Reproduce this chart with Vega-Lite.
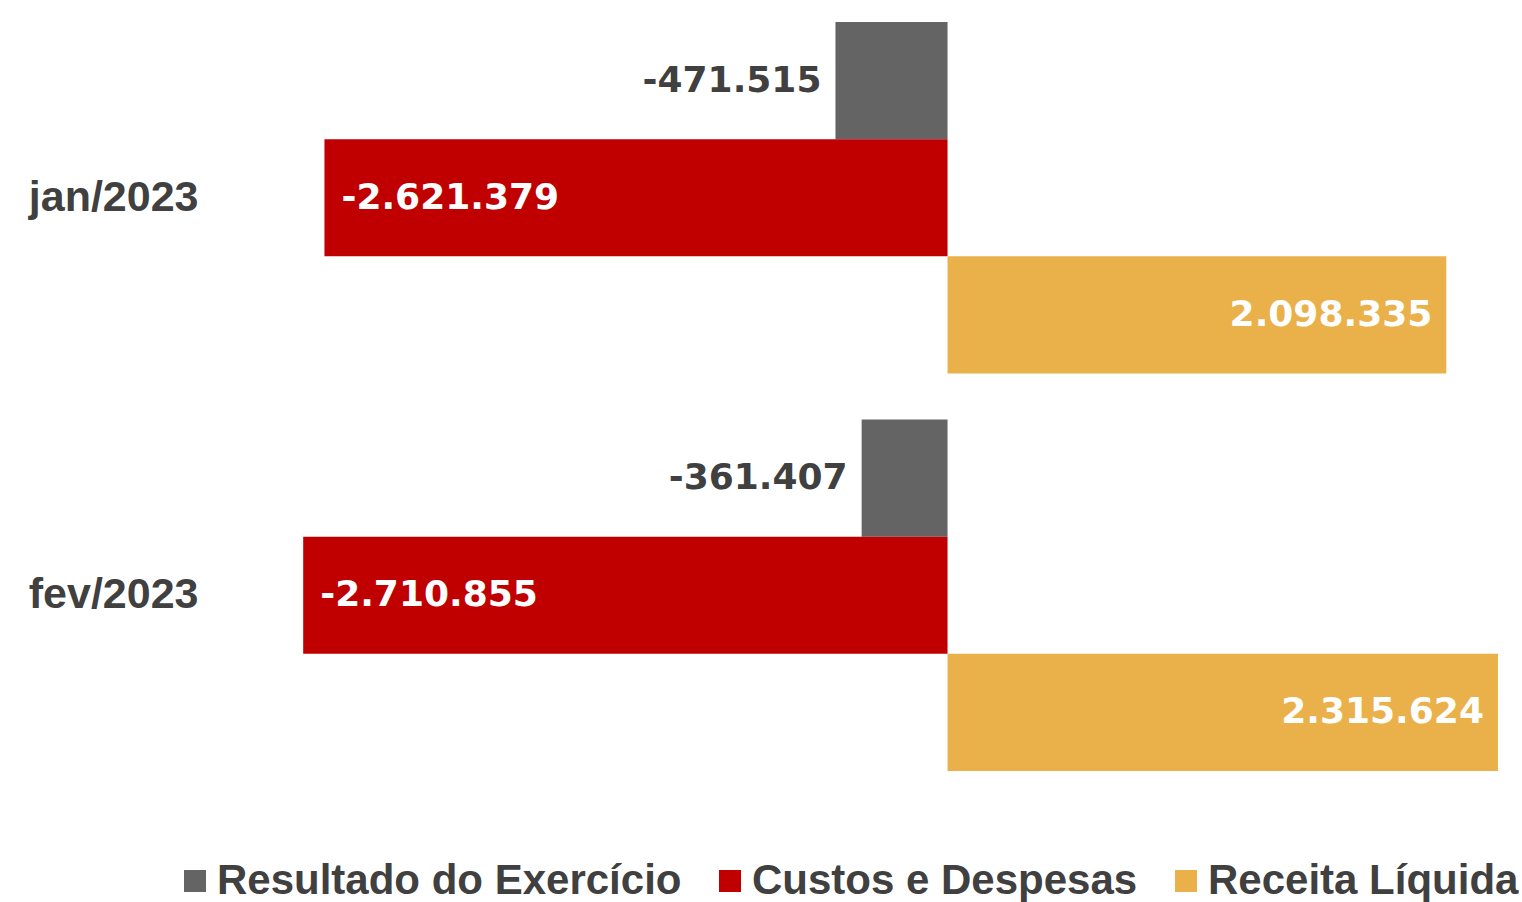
{
  "$schema": "https://vega.github.io/schema/vega-lite/v6.json",
  "autosize": {"type": "none"},
  "width": 1236,
  "height": 749,
  "padding": {"left": 282, "top": 22, "right": 4, "bottom": 131},
  "config": {
    "view": {"stroke": null},
    "locale": {"number": {"decimal": ",", "thousands": ".", "grouping": [3], "currency": ["R$ ", ""], "minus": "-"}}
  },
  "data": {
    "values": [
      {"mes": "jan/2023", "serie": "Resultado do Exercício", "valor": -471515},
      {"mes": "jan/2023", "serie": "Custos e Despesas", "valor": -2621379},
      {"mes": "jan/2023", "serie": "Receita Líquida", "valor": 2098335},
      {"mes": "fev/2023", "serie": "Resultado do Exercício", "valor": -361407},
      {"mes": "fev/2023", "serie": "Custos e Despesas", "valor": -2710855},
      {"mes": "fev/2023", "serie": "Receita Líquida", "valor": 2315624}
    ]
  },
  "encoding": {
    "y": {
      "field": "mes", "type": "nominal", "sort": ["jan/2023", "fev/2023"],
      "scale": {"paddingInner": 0.1156, "paddingOuter": 0},
      "axis": {"title": null, "domain": false, "ticks": false, "grid": false, "labelPadding": 84,
               "labelFont": "Liberation Sans", "labelFontWeight": "bold", "labelFontSize": 43, "labelColor": "#404040"}
    },
    "yOffset": {
      "field": "serie", "type": "nominal",
      "sort": ["Resultado do Exercício", "Custos e Despesas", "Receita Líquida"],
      "scale": {"paddingInner": 0, "paddingOuter": 0}
    },
    "x": {
      "field": "valor", "type": "quantitative",
      "scale": {"domain": [-2800000, 2400000], "nice": false, "zero": false},
      "axis": null
    }
  },
  "layer": [
    {
      "mark": {"type": "bar"},
      "encoding": {
        "color": {
          "field": "serie", "type": "nominal",
          "scale": {"domain": ["Resultado do Exercício", "Custos e Despesas", "Receita Líquida"], "range": ["#646464", "#C00000", "#EAB049"]},
          "legend": {
            "title": null, "orient": "none", "direction": "horizontal", "legendX": -108, "legendY": 838,
            "padding": 0, "symbolType": "square", "symbolSize": 484, "symbolStrokeWidth": 0, "symbolOpacity": 1,
            "labelFont": "Liberation Sans", "labelFontWeight": "bold", "labelFontSize": 42, "labelColor": "#404040",
            "labelOffset": 1, "columnPadding": 27, "labelLimit": 600
          }
        }
      }
    },
    {
      "transform": [{"filter": "datum.serie === 'Resultado do Exercício'"}],
      "mark": {"type": "text", "align": "right", "baseline": "middle", "dx": -14, "font": "DejaVu Sans", "fontWeight": "bold", "fontSize": 36, "color": "#404040"},
      "encoding": {"text": {"field": "valor", "type": "quantitative", "format": ",d"}}
    },
    {
      "transform": [{"filter": "datum.serie === 'Custos e Despesas'"}],
      "mark": {"type": "text", "align": "left", "baseline": "middle", "dx": 17, "font": "DejaVu Sans", "fontWeight": "bold", "fontSize": 36, "color": "#FFFFFF"},
      "encoding": {"text": {"field": "valor", "type": "quantitative", "format": ",d"}}
    },
    {
      "transform": [{"filter": "datum.serie === 'Receita Líquida'"}],
      "mark": {"type": "text", "align": "right", "baseline": "middle", "dx": -14, "font": "DejaVu Sans", "fontWeight": "bold", "fontSize": 36, "color": "#FFFFFF"},
      "encoding": {"text": {"field": "valor", "type": "quantitative", "format": ",d"}}
    }
  ]
}
